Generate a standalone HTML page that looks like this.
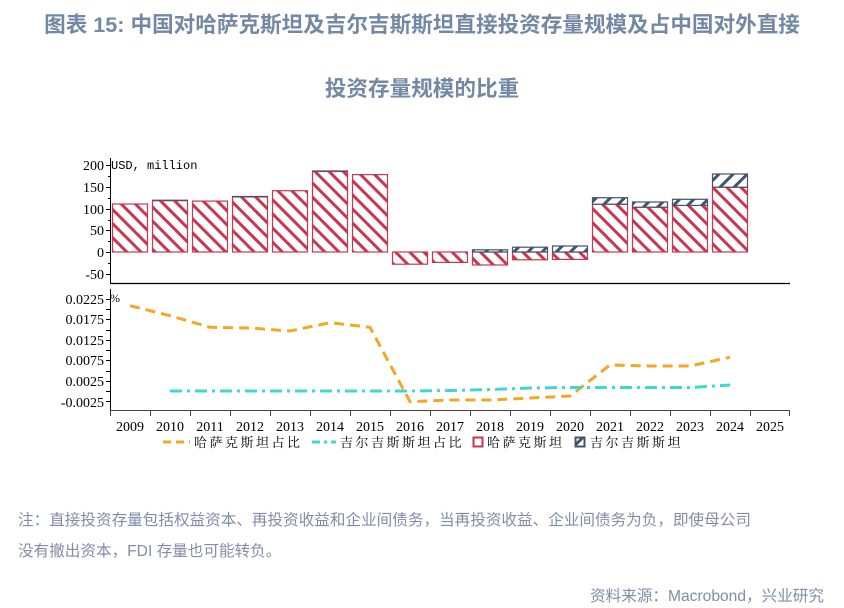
<!DOCTYPE html>
<html><head><meta charset="utf-8"><style>
body{margin:0;width:844px;height:608px;background:#fff;overflow:hidden;position:relative;font-family:"Liberation Sans","Noto Sans CJK SC",sans-serif}
.t{position:absolute;left:0;width:844px;text-align:center;color:#7388a5;font-weight:bold;font-size:21.6px;white-space:nowrap}
.n{position:absolute;left:18px;color:#7f8ea8;font-size:15.6px;white-space:nowrap}
</style></head><body>
<div class="t" style="top:8px">图表 15:&nbsp;中国对哈萨克斯坦及吉尔吉斯斯坦直接投资存量规模及占中国对外直接</div>
<div class="t" style="top:72px">投资存量规模的比重</div>
<svg width="844" height="608" style="position:absolute;left:0;top:0" font-family="'Liberation Serif','Noto Serif CJK SC',serif">
<defs>
<pattern id="pr" patternUnits="userSpaceOnUse" width="10" height="10" patternTransform="rotate(-45)"><rect width="10" height="10" fill="#fff"/><rect width="3" height="10" fill="#c9374f"/></pattern>
<pattern id="pb" patternUnits="userSpaceOnUse" width="10" height="10" patternTransform="rotate(45)"><rect width="10" height="10" fill="#fff"/><rect width="3" height="10" fill="#44546a"/></pattern>
</defs>
<g font-size="14" fill="#000" text-anchor="end">
<text x="104" y="170">200</text><text x="104" y="192">150</text><text x="104" y="214">100</text><text x="104" y="235">50</text><text x="104" y="257">0</text><text x="104" y="279">-50</text>
</g>
<g stroke="#000" stroke-width="1">
<line x1="110.5" y1="158" x2="110.5" y2="283"/>
<line x1="106" y1="165.5" x2="110" y2="165.5"/><line x1="106" y1="187.5" x2="110" y2="187.5"/><line x1="106" y1="209.5" x2="110" y2="209.5"/><line x1="106" y1="230.5" x2="110" y2="230.5"/><line x1="106" y1="252.5" x2="110" y2="252.5"/><line x1="106" y1="274.5" x2="110" y2="274.5"/>
<line x1="108" y1="176.5" x2="110" y2="176.5"/><line x1="108" y1="198.5" x2="110" y2="198.5"/><line x1="108" y1="220.5" x2="110" y2="220.5"/><line x1="108" y1="241.5" x2="110" y2="241.5"/><line x1="108" y1="263.5" x2="110" y2="263.5"/>
<line x1="110" y1="283.5" x2="790" y2="283.5" stroke-width="1.3"/>
</g>
<text x="111" y="169" font-family="'Liberation Mono',monospace" font-size="12">USD, million</text>
<g stroke="#c9374f" stroke-width="1.2" fill="url(#pr)">
<rect x="112.5" y="204" width="35" height="48"/>
<rect x="152.5" y="200.7" width="35" height="51.3"/>
<rect x="192.5" y="201.1" width="35" height="50.9"/>
<rect x="232.5" y="197" width="35" height="55"/>
<rect x="272.5" y="190.7" width="35" height="61.3"/>
<rect x="312.5" y="171.5" width="35" height="80.5"/>
<rect x="352.5" y="174.6" width="35" height="77.4"/>
<rect x="392.5" y="252" width="35" height="12.2"/>
<rect x="432.5" y="252" width="35" height="10.4"/>
<rect x="472.5" y="252" width="35" height="13"/>
<rect x="512.5" y="252" width="35" height="7.8"/>
<rect x="552.5" y="252" width="35" height="7.4"/>
<rect x="592.5" y="204.2" width="35" height="47.8"/>
<rect x="632.5" y="207.2" width="35" height="44.8"/>
<rect x="672.5" y="205.4" width="35" height="46.6"/>
<rect x="712.5" y="187.2" width="35" height="64.8"/>
</g>
<g stroke="#44546a" stroke-width="1.2" fill="url(#pb)">
<rect x="472.5" y="249.8" width="35" height="2.2"/>
<rect x="512.5" y="247.2" width="35" height="4.8"/>
<rect x="552.5" y="246" width="35" height="6"/>
<rect x="592.5" y="197.7" width="35" height="6.5"/>
<rect x="632.5" y="202" width="35" height="5.2"/>
<rect x="672.5" y="199.3" width="35" height="6.1"/>
<rect x="712.5" y="174" width="35" height="13.2"/>
</g>
<g stroke="#44546a" stroke-width="1.2"><line x1="232" y1="196.5" x2="268" y2="196.5"/><line x1="312" y1="171" x2="348" y2="171"/><line x1="152" y1="200.2" x2="188" y2="200.2"/></g>
<g font-size="14" text-anchor="end">
<text x="104" y="304">0.0225</text><text x="104" y="324">0.0175</text><text x="104" y="345">0.0125</text><text x="104" y="365">0.0075</text><text x="104" y="386">0.0025</text><text x="104" y="407">-0.0025</text>
</g>
<g stroke="#000" stroke-width="1">
<line x1="110.5" y1="289" x2="110.5" y2="410"/>
<line x1="106" y1="299.5" x2="110" y2="299.5"/><line x1="106" y1="319.5" x2="110" y2="319.5"/><line x1="106" y1="340.5" x2="110" y2="340.5"/><line x1="106" y1="360.5" x2="110" y2="360.5"/><line x1="106" y1="381.5" x2="110" y2="381.5"/><line x1="106" y1="401.5" x2="110" y2="401.5"/>
<line x1="106" y1="309.5" x2="110" y2="309.5"/><line x1="106" y1="330.5" x2="110" y2="330.5"/><line x1="106" y1="350.5" x2="110" y2="350.5"/><line x1="106" y1="371.5" x2="110" y2="371.5"/><line x1="106" y1="391.5" x2="110" y2="391.5"/>
<line x1="110" y1="410.5" x2="790" y2="410.5" stroke="#444"/>
</g>
<g stroke="#444" stroke-width="1">
<line x1="110.5" y1="410" x2="110.5" y2="416"/><line x1="150.5" y1="410" x2="150.5" y2="416"/><line x1="190.5" y1="410" x2="190.5" y2="416"/><line x1="230.5" y1="410" x2="230.5" y2="416"/><line x1="270.5" y1="410" x2="270.5" y2="416"/><line x1="310.5" y1="410" x2="310.5" y2="416"/><line x1="350.5" y1="410" x2="350.5" y2="416"/><line x1="390.5" y1="410" x2="390.5" y2="416"/><line x1="430.5" y1="410" x2="430.5" y2="416"/><line x1="470.5" y1="410" x2="470.5" y2="416"/><line x1="510.5" y1="410" x2="510.5" y2="416"/><line x1="550.5" y1="410" x2="550.5" y2="416"/><line x1="590.5" y1="410" x2="590.5" y2="416"/><line x1="630.5" y1="410" x2="630.5" y2="416"/><line x1="670.5" y1="410" x2="670.5" y2="416"/><line x1="710.5" y1="410" x2="710.5" y2="416"/><line x1="750.5" y1="410" x2="750.5" y2="416"/><line x1="789.5" y1="410" x2="789.5" y2="416"/>
</g>
<g font-size="14" text-anchor="middle">
<text x="130" y="431">2009</text><text x="170" y="431">2010</text><text x="210" y="431">2011</text><text x="250" y="431">2012</text><text x="290" y="431">2013</text><text x="330" y="431">2014</text><text x="370" y="431">2015</text><text x="410" y="431">2016</text><text x="450" y="431">2017</text><text x="490" y="431">2018</text><text x="530" y="431">2019</text><text x="570" y="431">2020</text><text x="610" y="431">2021</text><text x="650" y="431">2022</text><text x="690" y="431">2023</text><text x="730" y="431">2024</text><text x="770" y="431">2025</text>
</g>
<text x="110" y="302" font-size="12">%</text>
<polyline fill="none" stroke="#f5a623" stroke-width="3" stroke-dasharray="10,6" points="130,305.7 170,315.7 210,327.3 250,328 290,331 330,322.7 370,327.3 410,401.7 450,400 490,400 530,398 570,396 610,365 650,366 690,366 730,357.3"/>
<polyline fill="none" stroke="#3fd8d0" stroke-width="3" stroke-dasharray="12,5,3,5" points="170,391 410,391 450,390.5 490,389.5 530,388 570,387.5 690,387.5 730,385"/>
<line x1="163" y1="442" x2="190" y2="442" stroke="#f5a623" stroke-width="3" stroke-dasharray="8,5"/>
<text x="194" y="447" font-size="13" letter-spacing="2.5">哈萨克斯坦占比</text>
<line x1="312" y1="442" x2="336" y2="442" stroke="#3fd8d0" stroke-width="3" stroke-dasharray="8,4,3,4"/>
<text x="340" y="447" font-size="13" letter-spacing="2.5">吉尔吉斯斯坦占比</text>
<rect x="473.5" y="437.5" width="9" height="9" fill="#fff" stroke="#c9374f" stroke-width="2"/>
<text x="487" y="447" font-size="13" letter-spacing="2.5">哈萨克斯坦</text>
<rect x="575.5" y="437.5" width="9" height="9" fill="url(#pb)" stroke="#44546a" stroke-width="2"/>
<text x="590" y="447" font-size="13" letter-spacing="2.5">吉尔吉斯斯坦</text>
</svg>
<div class="n" style="top:508px">注：直接投资存量包括权益资本、再投资收益和企业间债务，当再投资收益、企业间债务为负，即使母公司</div>
<div class="n" style="top:539px">没有撤出资本，FDI 存量也可能转负。</div>
<div class="n" style="top:584px;left:auto;right:20px">资料来源：Macrobond，兴业研究</div>
</body></html>
